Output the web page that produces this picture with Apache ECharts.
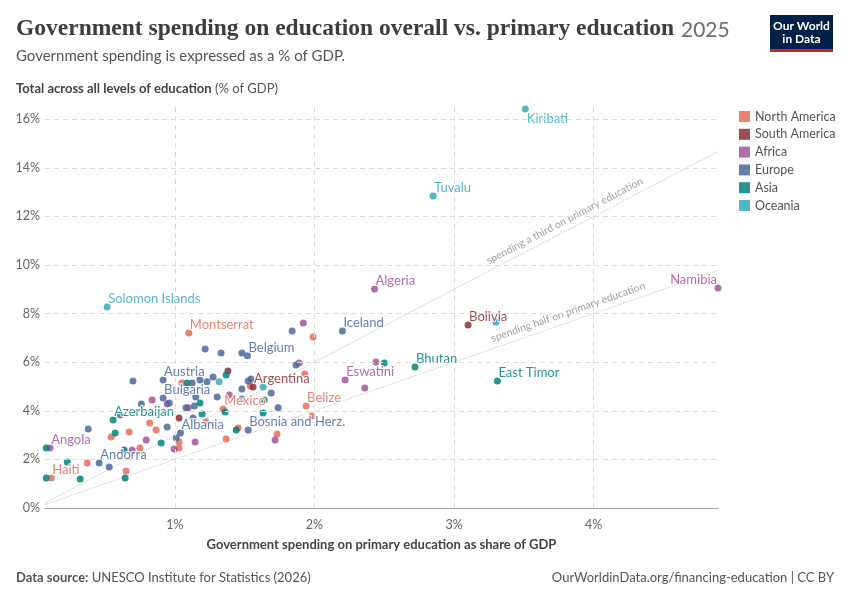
<!DOCTYPE html>
<html>
<head>
<meta charset="utf-8">
<script src="https://cdn.jsdelivr.net/npm/echarts@6/dist/echarts.min.js"></script>
<style>
  html, body { margin: 0; padding: 0; background: #fff; }
  #chart { width: 850px; height: 600px; }
</style>
</head>
<body>
<div id="chart"></div>
<script>
  // [primary % of GDP, total % of GDP, label]
  var northAmerica = [
    [1.10, 7.20, 'Montserrat'], [1.346, 4.07, 'Mexico'], [1.94, 4.20, 'Belize'], [0.115, 1.23, 'Haiti'],
    [1.05, 5.14], [1.99, 7.04], [1.93, 5.51], [1.54, 5.02], [0.82, 3.50], [0.866, 3.21],
    [0.673, 3.13], [0.544, 2.92], [1.03, 2.72], [1.03, 2.47], [0.75, 2.47], [0.372, 1.85],
    [0.651, 1.52], [1.224, 3.54], [1.453, 3.29], [1.367, 2.84], [1.732, 3.05], [1.983, 3.79]
  ];
  var southAmerica = [
    [3.10, 7.53, 'Bolivia'], [1.56, 4.98, 'Argentina'], [1.38, 5.64], [1.03, 3.70]
  ];
  var africa = [
    [4.89, 9.05, 'Namibia'], [2.43, 9.01, 'Algeria'], [2.22, 5.27, 'Eswatini'], [0.107, 2.47, 'Angola'],
    [1.92, 7.61], [1.89, 5.97], [2.44, 6.01], [2.36, 4.94], [1.39, 4.65], [0.837, 4.44],
    [0.945, 4.28], [1.095, 4.12], [0.795, 2.80], [0.694, 2.39], [0.995, 2.43], [1.145, 2.72],
    [1.718, 2.80]
  ];
  var europe = [
    [2.20, 7.28, 'Iceland'], [1.52, 6.26, 'Belgium'], [0.916, 5.27, 'Austria'], [0.916, 4.53, 'Bulgaria'],
    [1.04, 3.09, 'Albania'], [1.525, 3.21, 'Bosnia and Herz.'], [0.458, 1.85, 'Andorra'],
    [1.48, 6.38], [1.84, 7.28], [1.217, 6.54], [1.331, 6.38], [1.868, 5.88], [1.274, 5.39],
    [1.231, 5.19], [1.124, 5.14], [1.18, 5.27], [1.525, 5.23], [1.546, 5.31], [1.69, 4.73],
    [1.48, 4.90], [1.303, 4.57], [1.48, 4.49], [1.74, 4.12], [0.70, 5.23], [0.76, 4.28],
    [0.96, 4.32], [1.14, 4.20], [1.08, 4.12], [1.15, 4.57], [0.61, 3.83], [0.945, 3.33],
    [1.01, 2.88], [1.13, 3.70], [0.38, 3.25], [0.53, 1.69]
  ];
  var asia = [
    [2.72, 5.80, 'Bhutan'], [3.31, 5.23, 'East Timor'], [0.558, 3.62, 'Azerbaijan'],
    [0.079, 2.47], [0.079, 1.23], [2.50, 5.97], [1.367, 5.47], [1.088, 5.14], [1.18, 4.32],
    [1.195, 3.87], [1.36, 3.95], [1.64, 4.44], [1.632, 3.91], [1.44, 3.21], [0.573, 3.09],
    [0.902, 2.67], [0.637, 2.39], [0.229, 1.89], [0.322, 1.19], [0.644, 1.23]
  ];
  var oceania = [
    [3.51, 16.42, 'Kiribati'], [2.85, 12.84, 'Tuvalu'], [0.515, 8.27, 'Solomon Islands'],
    [3.30, 7.65], [1.317, 5.19], [1.632, 4.98]
  ];

  var regions = ['North America', 'South America', 'Africa', 'Europe', 'Asia', 'Oceania'];
  var regionData = [northAmerica, southAmerica, africa, europe, asia, oceania];
  var regionColors = ['#e56e5a', '#883039', '#a2559c', '#4c6a9c', '#00847e', '#38aaba'];

  var xTicks = [1, 2, 3, 4];
  var yTicks = [0, 2, 4, 6, 8, 10, 12, 14, 16];
  var xRange = [0.07, 4.89];
  var yRange = [0, 16.5];

  // reference lines: total = ratio * primary
  var refLines = [
    { ratio: 3, text: 'spending a third on primary education', labelAt: 3.81, angle: 27.6 },
    { ratio: 2, text: 'spending half on primary education', labelAt: 3.83, angle: 19.2 }
  ];

  var FONT = 'Lato, "Noto Sans", sans-serif';
  var chart = echarts.init(document.getElementById('chart'), null, { renderer: 'canvas' });

  // label position is relative to the 7x7 symbol box
  function pointLabel(name, color) {
    var base = {
      show: true, formatter: name, color: color, fontFamily: FONT, fontSize: 13,
      textBorderColor: '#fff', textBorderWidth: 2,
      position: [4.5, -4.5], align: 'left', verticalAlign: 'middle'
    };
    if (name === 'Kiribati') base.position = [5, 13];
    if (name === 'Namibia') { base.position = [2.5, -4.5]; base.align = 'right'; }
    return base;
  }

  var series = [];

  // grid lines drawn through the axes
  series.push({
    type: 'scatter', data: [], silent: true, z: 0,
    markLine: {
      silent: true, symbol: 'none', animation: false, label: { show: false },
      lineStyle: { color: '#dcdcdc', type: [5, 4], width: 1 },
      data: xTicks.map(function (v) { return { xAxis: v }; })
        .concat(yTicks.filter(function (v) { return v > 0; }).map(function (v) { return { yAxis: v }; }))
    }
  });

  refLines.forEach(function (r) {
    series.push({
      type: 'line', silent: true, symbol: 'circle', symbolSize: 1, showSymbol: true, z: 1,
      itemStyle: { color: 'rgba(0,0,0,0)' },
      lineStyle: { color: '#c4c4c4', type: 'dotted', width: 1 },
      data: [
        [xRange[0], xRange[0] * r.ratio],
        {
          value: [r.labelAt, r.labelAt * r.ratio],
          label: {
            show: true, position: 'top', distance: 4, rotate: r.angle, formatter: r.text,
            color: '#a0a0a0', fontFamily: FONT, fontSize: 10.5,
            textBorderColor: '#fff', textBorderWidth: 2
          }
        },
        [xRange[1], xRange[1] * r.ratio]
      ]
    });
  });

  regions.forEach(function (name, i) {
    series.push({
      name: name, type: 'scatter', symbolSize: 7, z: 3,
      itemStyle: { color: regionColors[i], opacity: 0.85 },
      data: regionData[i].map(function (p) {
        var item = { value: [p[0], p[1]] };
        if (p[2]) { item.name = p[2]; item.label = pointLabel(p[2], regionColors[i]); }
        return item;
      })
    });
  });

  chart.setOption({
    animation: false,
    textStyle: { fontFamily: FONT },
    grid: { left: 45, right: 132, top: 107, bottom: 92 },
    legend: {
      data: regions, orient: 'vertical', left: 734, top: 105,
      icon: 'rect', itemWidth: 11, itemHeight: 11, itemGap: 4.8,
      textStyle: { color: '#555', fontSize: 12.5, fontFamily: FONT },
      selectedMode: false
    },
    xAxis: {
      type: 'value', min: xRange[0], max: xRange[1],
      name: 'Government spending on primary education as share of GDP',
      nameLocation: 'middle', nameGap: 30,
      nameTextStyle: { color: '#444', fontSize: 13, fontWeight: 'bold', fontFamily: FONT },
      axisLine: { show: true, lineStyle: { color: '#aaa' } },
      axisTick: { show: false },
      splitLine: { show: false },
      axisLabel: {
        color: '#666', fontSize: 12.5, margin: 10, showMinLabel: false, showMaxLabel: false,
        formatter: function (v) { return xTicks.indexOf(v) >= 0 ? v + '%' : ''; }
      }
    },
    yAxis: {
      type: 'value', min: yRange[0], max: yRange[1], interval: 2,
      axisLine: { show: false }, axisTick: { show: false }, splitLine: { show: false },
      axisLabel: {
        color: '#666', fontSize: 12.5, margin: 5,
        formatter: function (v) { return yTicks.indexOf(v) >= 0 ? v + '%' : ''; }
      }
    },
    graphic: [
      {
        type: 'text', left: 16, top: 17,
        style: {
          text: 'Government spending on education overall vs. primary education',
          font: 'bold 23.5px "Liberation Serif", "DejaVu Serif", serif', fill: '#3d3d3d'
        }
      },
      {
        type: 'text', left: 681, top: 20,
        style: { text: '2025', font: '21px ' + FONT, fill: '#6e6e6e' }
      },
      {
        type: 'text', left: 16, top: 49,
        style: { text: 'Government spending is expressed as a % of GDP.', font: '15px ' + FONT, fill: '#555' }
      },
      {
        type: 'text', left: 16, top: 82,
        style: {
          text: '{b|Total across all levels of education} (% of GDP)',
          font: '13px ' + FONT, fill: '#555',
          rich: { b: { fontWeight: 'bold', fontSize: 13, fontFamily: FONT, fill: '#444' } }
        }
      },
      {
        type: 'text', left: 16, top: 571,
        style: {
          text: '{b|Data source:} UNESCO Institute for Statistics (2026)',
          font: '13px ' + FONT, fill: '#555',
          rich: { b: { fontWeight: 'bold', fontSize: 13, fontFamily: FONT, fill: '#555' } }
        }
      },
      {
        type: 'text', right: 16, top: 571,
        style: { text: 'OurWorldinData.org/financing-education | CC BY', font: '13px ' + FONT, fill: '#555' }
      },
      { type: 'rect', left: 770, top: 15, shape: { width: 63, height: 35 }, style: { fill: '#002147' } },
      { type: 'rect', left: 770, top: 49, shape: { width: 63, height: 3 }, style: { fill: '#ce261e' } },
      {
        type: 'text', x: 801.5, y: 20,
        style: {
          text: 'Our World\nin Data', align: 'center', verticalAlign: 'top', lineHeight: 13,
          font: 'bold 12px ' + FONT, fill: '#fff'
        }
      }
    ],
    series: series
  });
</script>
</body>
</html>
